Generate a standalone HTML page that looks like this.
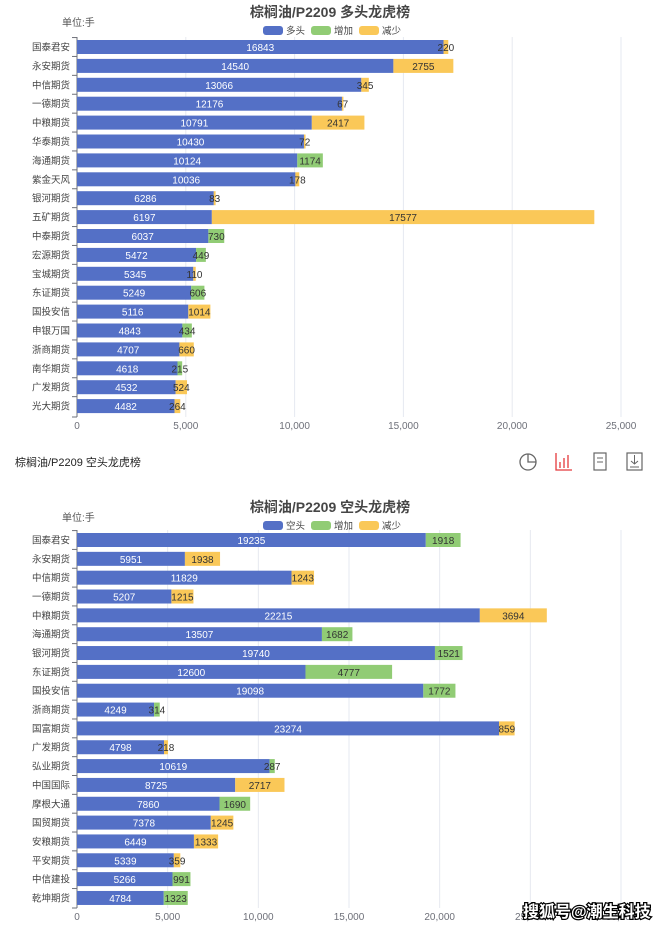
<!DOCTYPE html><html><head><meta charset="utf-8"><style>
body{margin:0;background:#fff;width:663px;height:927px;overflow:hidden;font-family:"Liberation Sans","Noto Sans CJK SC",sans-serif}
svg text{font-family:"Liberation Sans","Noto Sans CJK SC",sans-serif}
</style></head><body>
<svg id="s" width="663" height="927" xmlns="http://www.w3.org/2000/svg"></svg>
<script>
var B='#5470c6',G='#91cc75',Y='#fac858';
var c1=[["国泰君安",16843,0,220],["永安期货",14540,0,2755],["中信期货",13066,0,345],["一德期货",12176,0,67],["中粮期货",10791,0,2417],["华泰期货",10430,0,72],["海通期货",10124,1174,0],["紫金天风",10036,0,178],["银河期货",6286,0,83],["五矿期货",6197,0,17577],["中泰期货",6037,730,0],["宏源期货",5472,449,0],["宝城期货",5345,0,110],["东证期货",5249,606,0],["国投安信",5116,0,1014],["申银万国",4843,434,0],["浙商期货",4707,0,660],["南华期货",4618,215,0],["广发期货",4532,0,524],["光大期货",4482,0,264]];
var c2=[["国泰君安",19235,1918,0],["永安期货",5951,0,1938],["中信期货",11829,0,1243],["一德期货",5207,0,1215],["中粮期货",22215,0,3694],["海通期货",13507,1682,0],["银河期货",19740,1521,0],["东证期货",12600,4777,0],["国投安信",19098,1772,0],["浙商期货",4249,314,0],["国富期货",23274,0,859],["广发期货",4798,0,218],["弘业期货",10619,287,0],["中国国际",8725,0,2717],["摩根大通",7860,1690,0],["国贸期货",7378,0,1245],["安粮期货",6449,0,1333],["平安期货",5339,0,359],["中信建投",5266,991,0],["乾坤期货",4784,1323,0]];
var h='';
function chart(d,top,y0,step,axisY,max,title,lg){
 var sc=544/max;
 h+='<text x="330" y="'+(top+17)+'" font-size="14" font-weight="bold" fill="#464646" text-anchor="middle">'+title+'</text>';
 h+='<text x="62" y="'+(top+26)+'" font-size="10" fill="#555">单位:手</text>';
 var lx=263;[[B,lg],[G,'增加'],[Y,'减少']].forEach(function(l){h+='<rect x="'+lx+'" y="'+(top+26)+'" width="20" height="9" rx="3" fill="'+l[0]+'"/><text x="'+(lx+23)+'" y="'+(top+34)+'" font-size="9.5" fill="#444">'+l[1]+'</text>';lx+=48;});
 for(var i=1;i<=max/5000;i++){var x=77+i*5000*sc;h+='<line x1="'+x+'" y1="'+(y0-10)+'" x2="'+x+'" y2="'+axisY+'" stroke="#e6e9f0"/>';}
 h+='<line x1="77" y1="'+(y0-10)+'" x2="77" y2="'+axisY+'" stroke="#6e7079"/>';
 for(var i=0;i<=max/5000;i++){var x=77+i*5000*sc;h+='<text x="'+x+'" y="'+(axisY+12)+'" font-size="10" fill="#6e7079" text-anchor="middle">'+(i?(i*5).toString()+',000':'0')+'</text>';}
 d.forEach(function(r,k){var cy=y0+k*step,y=cy-7,x=77,w=r[1]*sc;
  h+='<line x1="72" y1="'+(cy-step/2)+'" x2="77" y2="'+(cy-step/2)+'" stroke="#6e7079"/>';
  h+='<text x="70" y="'+(cy+3.5)+'" font-size="9.5" fill="#444" text-anchor="end">'+r[0]+'</text>';
  h+='<rect x="'+x+'" y="'+y+'" width="'+w+'" height="14" fill="'+B+'"/><text x="'+(x+w/2)+'" y="'+(cy+4)+'" font-size="10" fill="#fff" text-anchor="middle">'+r[1]+'</text>';x+=w;
  [[r[2],G],[r[3],Y]].forEach(function(s){if(!s[0])return;var w2=s[0]*sc;h+='<rect x="'+x+'" y="'+y+'" width="'+w2+'" height="14" fill="'+s[1]+'"/><text x="'+(x+w2/2)+'" y="'+(cy+4)+'" font-size="10" fill="#333" text-anchor="middle">'+s[0]+'</text>';x+=w2;});
 });
 h+='<line x1="72" y1="'+axisY+'" x2="77" y2="'+axisY+'" stroke="#6e7079"/>';
}
chart(c1,0,47,18.9,417,25000,'棕榈油/P2209 多头龙虎榜','多头');
h+='<text x="15" y="466" font-size="11" fill="#222">棕榈油/P2209 空头龙虎榜</text>';
h+='<circle cx="528" cy="462" r="8" fill="none" stroke="#666" stroke-width="1.3"/><path d="M528 454V462H536" fill="none" stroke="#666" stroke-width="1.3"/>';
h+='<path d="M556 453V470H572M560 468V462M564 468V458M568 468V455" stroke="#e4393c" stroke-width="1.3" fill="none"/>';
h+='<rect x="594" y="453" width="12" height="17" fill="none" stroke="#666" stroke-width="1.2"/><path d="M597 458H603M597 462H603" stroke="#666"/>';
h+='<rect x="627" y="453" width="15" height="17" fill="none" stroke="#666" stroke-width="1.2"/><path d="M634.5 455V464M631 461L634.5 464L638 461M630 467H639" stroke="#666" fill="none"/>';
chart(c2,495,540,18.84,908,30000,'棕榈油/P2209 空头龙虎榜','空头');
h+='<text x="523" y="917" font-size="16" font-weight="bold" fill="#fff" stroke="#000" stroke-width="2.5" paint-order="stroke">搜狐号@潮生科技</text>';
document.getElementById('s').innerHTML=h;
</script></body></html>
